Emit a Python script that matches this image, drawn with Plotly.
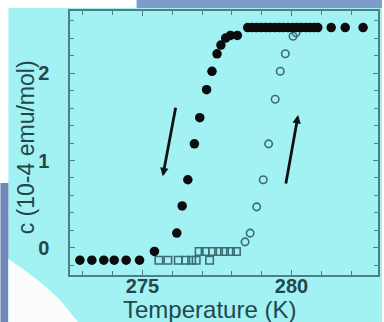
import plotly.graph_objects as go

# Cooling run (filled circles): temperature in K, susceptibility in 1e-4 emu/mol
cool_T = [272.9, 273.3, 273.7, 274.05, 274.45, 274.9, 275.4,
          276.15, 276.33, 276.52, 276.74, 276.92, 277.15, 277.33, 277.5,
          277.63, 277.79, 277.95, 278.18,
          278.53, 278.68, 278.83, 278.98, 279.13, 279.28, 279.43, 279.58,
          279.73, 279.88, 280.03, 280.18, 280.33, 280.48, 280.62, 280.76,
          280.88, 281.33, 281.8, 282.4]
cool_chi = [-0.14, -0.14, -0.14, -0.14, -0.14, -0.14, -0.04,
            0.17, 0.48, 0.78, 1.19, 1.49, 1.81, 2.02, 2.22,
            2.32, 2.40, 2.43, 2.43,
            2.52, 2.52, 2.52, 2.52, 2.52, 2.52, 2.52, 2.52,
            2.52, 2.52, 2.52, 2.52, 2.52, 2.52, 2.52, 2.52,
            2.52, 2.52, 2.52, 2.52]

# Heating run (open symbols)
heat_T = [275.55, 275.85, 276.2, 276.45, 276.65, 276.8, 277.25,
          276.9, 277.1, 277.35, 277.55, 277.75, 277.95, 278.15,
          278.44, 278.61, 278.83, 279.05, 279.23, 279.45, 279.62, 279.79,
          280.05, 280.15]
heat_chi = [-0.14, -0.14, -0.14, -0.14, -0.14, -0.14, -0.14,
            -0.04, -0.04, -0.04, -0.04, -0.04, -0.04, -0.04,
            0.07, 0.17, 0.47, 0.78, 1.19, 1.70, 2.02, 2.22,
            2.42, 2.46]

# Direction arrows: (tail T, tail chi, head T, head chi)
arrow_cool = (276.12, 1.62, 275.68, 0.82)
arrow_heat = (279.80, 0.72, 280.22, 1.52)

x_ticks = [275, 280]
y_ticks = [0, 1, 2]

W, H = 384, 322
ML, MR, MT, MB = 70, 4, 11, 47
PW, PH = W - ML - MR, H - MT - MB

CYAN = "#a2f2f3"
SLATE = "#7d9ccb"
INK = "#24474b"
FRAME = "#4d8084"


def px(x):
    return (x - ML) / PW


def py(y):
    return (H - MB - y) / PH


heat_symbols = ["square-open" if c < 0.05 else "circle-open" for c in heat_chi]

fig = go.Figure()
fig.add_trace(go.Scatter(
    x=heat_T, y=heat_chi, mode="markers",
    marker=dict(symbol=heat_symbols, size=7.5, color="#3d6d71",
                line=dict(width=1.6, color="#3d6d71")),
    showlegend=False, cliponaxis=False))
fig.add_trace(go.Scatter(
    x=cool_T, y=cool_chi, mode="markers",
    marker=dict(symbol="circle", size=9.5, color="#0c0c0c"),
    showlegend=False, cliponaxis=False))

for tx, ty, hx, hy in (arrow_cool, arrow_heat):
    fig.add_annotation(x=hx, y=hy, ax=tx, ay=ty, xref="x", yref="y",
                       axref="x", ayref="y", showarrow=True, text="",
                       arrowhead=2, arrowsize=0.6, arrowwidth=2.8,
                       arrowcolor="#111111")

shapes = [
    # slide background behind the chart
    dict(type="rect", xref="paper", yref="paper", layer="below",
         x0=px(8), x1=px(W), y0=py(H), y1=py(8),
         fillcolor=CYAN, line=dict(width=0)),
    dict(type="rect", xref="paper", yref="paper", layer="below",
         x0=px(137), x1=px(W), y0=py(8), y1=py(0),
         fillcolor=SLATE, line=dict(width=0)),
    dict(type="rect", xref="paper", yref="paper", layer="below",
         x0=px(0), x1=px(8), y0=py(H), y1=py(183),
         fillcolor="#7189b6", line=dict(width=0)),
    dict(type="path", xref="paper", yref="paper", layer="below",
         path=(f"M {px(8)} {py(259)} Q {px(40)} {py(280)} {px(60)} {py(300)} "
               f"L {px(78)} {py(H)} L {px(8)} {py(H)} Z"),
         fillcolor="#fbfdfd", line=dict(width=0)),
]

fig.add_annotation(text="Temperature (K)", xref="paper", yref="paper",
                   x=px(210), y=py(309), showarrow=False,
                   xanchor="center", yanchor="middle",
                   font=dict(family="Arial, Liberation Sans", size=24, color=INK))
fig.add_annotation(text="c (10-4 emu/mol)", xref="paper", yref="paper",
                   x=px(26), y=py(147), showarrow=False, textangle=-90,
                   xanchor="center", yanchor="middle",
                   font=dict(family="Arial, Liberation Sans", size=23, color=INK))

axis_common = dict(showline=True, linecolor=FRAME, linewidth=1.5, mirror="allticks",
                   ticks="inside", tickcolor=FRAME, tickwidth=1.2, ticklen=5,
                   showgrid=False, zeroline=False,
                   tickfont=dict(family="Arial, Liberation Sans", size=20,
                                 color=INK, weight="bold"))

fig.update_xaxes(range=[272.567, 282.9], tickvals=x_ticks,
                 minor=dict(dtick=1, tick0=275, ticks="inside", ticklen=4,
                            tickcolor=FRAME, tickwidth=1.2),
                 ticklabelstandoff=-8, **axis_common)
fig.update_yaxes(range=[-0.309, 2.709], tickvals=y_ticks,
                 minor=dict(dtick=0.2, tick0=0, ticks="inside", ticklen=4,
                            tickcolor=FRAME, tickwidth=1.2),
                 ticklabelstandoff=15, **axis_common)

fig.update_layout(width=W, height=H, margin=dict(l=ML, r=MR, t=MT, b=MB),
                  paper_bgcolor="white", plot_bgcolor=CYAN,
                  shapes=shapes, showlegend=False)

fig.write_html("out.html", config={"displayModeBar": False})
